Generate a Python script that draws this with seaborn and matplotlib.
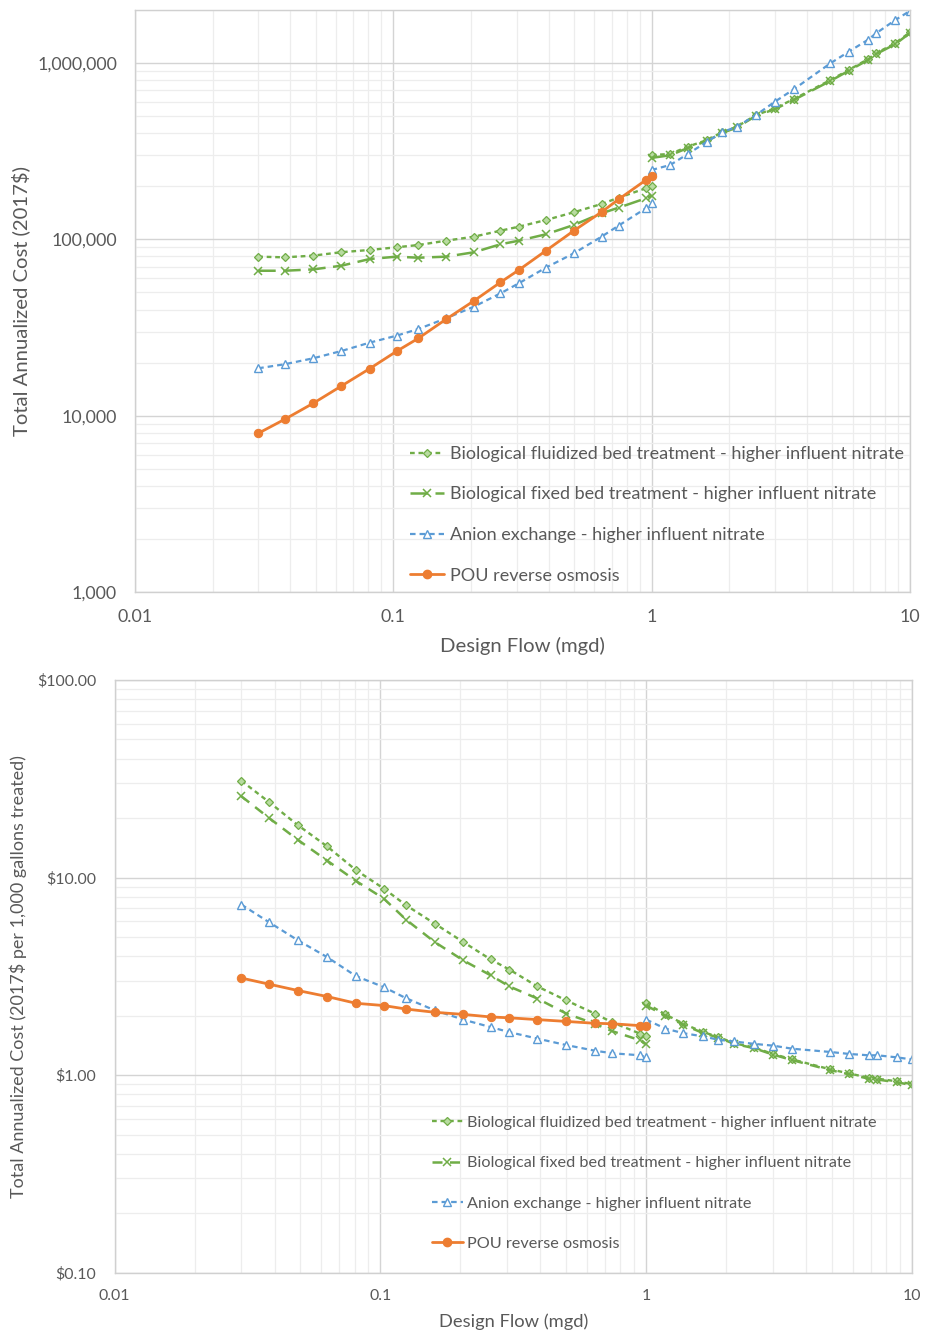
import matplotlib
matplotlib.use("Agg")
import matplotlib.pyplot as plt
import matplotlib.ticker as mticker
from matplotlib.lines import Line2D
import seaborn as sns
import numpy as np

# ---------------- data ----------------
flow_low = [0.030, 0.038, 0.049, 0.063, 0.081, 0.103, 0.125, 0.160, 0.205, 0.260,
            0.306, 0.390, 0.500, 0.640, 0.745, 0.950, 1.000]
flow_high = [1.00, 1.18, 1.38, 1.64, 1.87, 2.14, 2.54, 3.00, 3.55, 4.92, 5.80, 6.86,
             7.40, 8.77, 10.0]

series_labels = [
    "Biological fluidized bed treatment - higher influent nitrate",
    "Biological fixed bed treatment - higher influent nitrate",
    "Anion exchange - higher influent nitrate",
    "POU reverse osmosis",
]

# Top chart: total annualized cost (2017$)
fluid_cost_low = [79800, 79100, 80900, 84600, 87100, 90200, 92900, 98300, 103600, 112000,
                  118000, 128800, 142500, 158800, 172300, 194900, 200900]
fixed_cost_low = [66400, 66400, 67600, 70900, 77400, 79800, 78700, 79800, 84500, 93800,
                  98300, 106900, 120700, 140600, 151300, 171000, 177000]
anion_cost_low = [18570, 19580, 21170, 23280, 25960, 28440, 31020, 35660, 41500, 49400,
                  56340, 69160, 83400, 103600, 119700, 150100, 160200]
ro_cost = [7940, 9540, 11760, 14740, 18480, 23190, 27470, 35230, 44760, 57100,
           67000, 86300, 112000, 142900, 168700, 217000, 229700]
fluid_cost_high = [301000, 305000, 335700, 366000, 404800, 435800, 508000, 554000, 625000,
                   801000, 914000, 1051000, 1138000, 1295000, 1496000]
fixed_cost_high = [290000, 300000, 330000, 362000, 400000, 432000, 503000, 548000, 618000,
                   792000, 905000, 1040000, 1125000, 1280000, 1480000]
anion_cost_high = [247600, 264200, 305000, 358300, 404800, 435800, 508000, 604000, 710000,
                   997000, 1161000, 1352000, 1476000, 1754000, 1976000]

# Bottom chart: cost per 1,000 gallons treated
fluid_unit_low = [30.9, 24.2, 18.4, 14.4, 10.9, 8.80, 7.24, 5.85, 4.72, 3.85, 3.42, 2.81,
                  2.39, 2.05, 1.85, 1.62, 1.57]
fixed_unit_low = [25.8, 20.1, 15.5, 12.2, 9.61, 7.83, 6.12, 4.72, 3.81, 3.20, 2.81, 2.44,
                  2.05, 1.82, 1.67, 1.50, 1.43]
anion_unit_low = [7.30, 5.96, 4.81, 3.96, 3.17, 2.79, 2.45, 2.13, 1.91, 1.75, 1.65, 1.53,
                  1.42, 1.33, 1.29, 1.26, 1.23]
ro_unit = [3.10, 2.89, 2.68, 2.50, 2.31, 2.25, 2.16, 2.08, 2.03, 1.97, 1.95, 1.91, 1.87,
           1.83, 1.82, 1.78, 1.78]
fluid_unit_high = [2.31, 2.03, 1.82, 1.65, 1.56, 1.45, 1.38, 1.28, 1.20, 1.07, 1.02, 0.97,
                   0.96, 0.93, 0.90]
fixed_unit_high = [2.25, 2.00, 1.80, 1.63, 1.55, 1.44, 1.37, 1.27, 1.19, 1.06, 1.01, 0.96,
                   0.95, 0.92, 0.89]
anion_unit_high = [1.91, 1.72, 1.63, 1.57, 1.51, 1.48, 1.44, 1.41, 1.36, 1.31, 1.28, 1.26,
                   1.26, 1.23, 1.20]

x_ticks = [0.01, 0.1, 1, 10]
x_tick_labels = ["0.01", "0.1", "1", "10"]
top_y_ticks = [1000, 10000, 100000, 1000000]
top_y_tick_labels = ["1,000", "10,000", "100,000", "1,000,000"]
bot_y_ticks = [0.1, 1, 10, 100]
bot_y_tick_labels = ["$0.10", "$1.00", "$10.00", "$100.00"]

# ---------------- style ----------------
sns.set_theme(style="white")
plt.rcParams["font.family"] = ["Lato", "DejaVu Sans"]
TXT = "#595959"
GREEN = "#70AD47"
BLUE = "#5B9BD5"
ORANGE = "#ED7D31"

fig = plt.figure(figsize=(9.25, 13.36), dpi=100)
ax1 = fig.add_axes([0.1459, 0.5569, 0.8378, 0.4356])
ax2 = fig.add_axes([0.1238, 0.0474, 0.8622, 0.4436])


def styles(fixed_ls):
    return [
        dict(color=GREEN, linestyle=(0, (2, 1.6)), linewidth=1.7, marker="D", markersize=4,
             markerfacecolor="#b8dba0", markeredgecolor=GREEN, markeredgewidth=0.9),
        dict(color=GREEN, linestyle=fixed_ls, linewidth=1.8, marker="x", markersize=5.5,
             markeredgecolor=GREEN, markeredgewidth=1.1),
        dict(color=BLUE, linestyle=(0, (2.5, 1.8)), linewidth=1.6, marker="^", markersize=5.5,
             markerfacecolor="white", markeredgecolor=BLUE, markeredgewidth=1.0),
        dict(color=ORANGE, linestyle="-", linewidth=2.0, marker="o", markersize=6,
             markerfacecolor=ORANGE, markeredgecolor=ORANGE),
    ]


def draw(ax, segs, fixed_ls):
    st = styles(fixed_ls)
    handles = []
    for i, seg_list in enumerate(segs):
        for xs, ys in seg_list:
            sns.lineplot(x=xs, y=ys, ax=ax, estimator=None, sort=False, **st[i])
        handles.append(Line2D([], [], **st[i]))
    return handles


top_segs = [
    [(flow_low, fluid_cost_low), (flow_high, fluid_cost_high)],
    [(flow_low, fixed_cost_low), (flow_high, fixed_cost_high)],
    [(flow_low, anion_cost_low), (flow_high, anion_cost_high)],
    [(flow_low, ro_cost)],
]
bot_segs = [
    [(flow_low, fluid_unit_low), (flow_high, fluid_unit_high)],
    [(flow_low, fixed_unit_low), (flow_high, fixed_unit_high)],
    [(flow_low, anion_unit_low), (flow_high, anion_unit_high)],
    [(flow_low, ro_unit)],
]

h1 = draw(ax1, top_segs, (0, (7, 3)))
h2 = draw(ax2, bot_segs, (0, (4, 3)))


def format_axes(ax, yticks, ylabels, ylim, tick_fs, xlabel, ylabel, xlab_fs, ylab_fs,
                xl_pos, yl_pos):
    ax.set_xscale("log")
    ax.set_yscale("log")
    ax.set_xlim(0.01, 10)
    ax.set_ylim(*ylim)
    ax.xaxis.set_major_locator(mticker.FixedLocator(x_ticks))
    ax.xaxis.set_major_formatter(mticker.FixedFormatter(x_tick_labels))
    ax.yaxis.set_major_locator(mticker.FixedLocator(yticks))
    ax.yaxis.set_major_formatter(mticker.FixedFormatter(ylabels))
    ax.xaxis.set_minor_locator(mticker.LogLocator(base=10, subs=np.arange(2, 10), numticks=20))
    ax.yaxis.set_minor_locator(mticker.LogLocator(base=10, subs=np.arange(2, 10), numticks=20))
    ax.xaxis.set_minor_formatter(mticker.NullFormatter())
    ax.yaxis.set_minor_formatter(mticker.NullFormatter())
    ax.grid(which="major", color="#D4D4D4", linewidth=1.0)
    ax.grid(which="minor", color="#EDEDED", linewidth=0.9)
    ax.set_axisbelow(True)
    ax.tick_params(which="both", length=0)
    ax.tick_params(axis="x", pad=12, labelsize=tick_fs, labelcolor=TXT)
    ax.tick_params(axis="y", pad=13, labelsize=tick_fs, labelcolor=TXT)
    for sp in ax.spines.values():
        sp.set_color("#D0D0D0")
        sp.set_linewidth(1.0)
    ax.set_xlabel(xlabel, fontsize=xlab_fs, color=TXT)
    ax.set_ylabel(ylabel, fontsize=ylab_fs, color=TXT)
    ax.xaxis.set_label_coords(*xl_pos)
    ax.yaxis.set_label_coords(*yl_pos)


format_axes(ax1, top_y_ticks, top_y_tick_labels, (1000, 2.0e6), 12.8,
            "Design Flow (mgd)", "Total Annualized Cost (2017$)", 14.6, 14.6,
            (0.5, -0.077), (-0.135, 0.5))
format_axes(ax2, bot_y_ticks, bot_y_tick_labels, (0.1, 100), 11.4,
            "Design Flow (mgd)", "Total Annualized Cost (2017$ per 1,000 gallons treated)",
            13.2, 13.0, (0.5, -0.068), (-0.110, 0.5))

ax1.legend(h1, series_labels, loc="upper left", bbox_to_anchor=(0.355, 0.251),
           frameon=False, fontsize=13, labelcolor=TXT, handlelength=1.9,
           handletextpad=0.3, labelspacing=1.36, borderpad=0, borderaxespad=0)
ax2.legend(h2, series_labels, loc="upper left", bbox_to_anchor=(0.398, 0.265),
           frameon=False, fontsize=11.7, labelcolor=TXT, handlelength=1.9,
           handletextpad=0.28, labelspacing=1.6, borderpad=0, borderaxespad=0)

fig.savefig("out.png", dpi=100)
